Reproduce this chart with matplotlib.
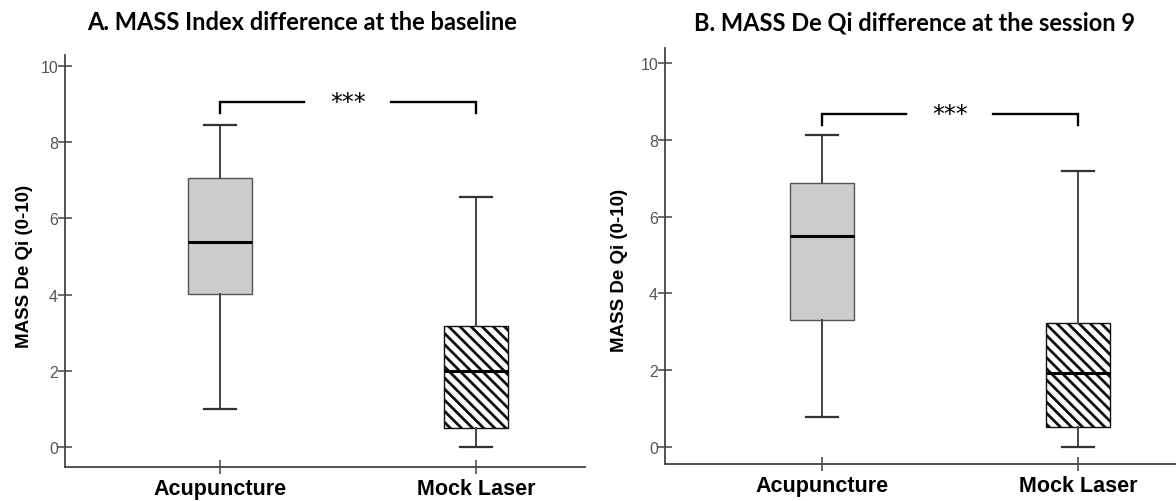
import matplotlib
matplotlib.use("Agg")
import matplotlib.pyplot as plt

plt.rcParams['hatch.linewidth'] = 2.0
plt.rcParams['font.family'] = ['Liberation Sans', 'DejaVu Sans']

groups = ['Acupuncture', 'Mock Laser']

# five-number summaries: whisker low, Q1, median, Q3, whisker high
baseline_acu = [1.0, 4.02, 5.38, 7.06, 8.45]
baseline_mock = [0.0, 0.50, 2.00, 3.18, 6.56]
session9_acu = [0.78, 3.31, 5.49, 6.88, 8.13]
session9_mock = [0.0, 0.52, 1.93, 3.23, 7.19]

titles = ['A. MASS Index difference at the baseline',
          'B. MASS De Qi difference at the session 9']
ylabel = 'MASS De Qi (0-10)'
yticks = [0, 2, 4, 6, 8, 10]
sig_label = '***'
sig_height = [9.06, 8.67]


def five_num(vals, label):
    lo, q1, med, q3, hi = vals
    return dict(whislo=lo, q1=q1, med=med, q3=q3, whishi=hi, label=label, fliers=[])


def draw_panel(ax, acu, mock, ylim, xlim, bracket_y):
    stats = [five_num(acu, groups[0]), five_num(mock, groups[1])]
    res = ax.bxp(stats, positions=[1, 2], widths=0.25, patch_artist=True,
                 showfliers=False,
                 boxprops=dict(edgecolor='#555555', linewidth=1.0),
                 whiskerprops=dict(color='#444444', linewidth=1.4),
                 capprops=dict(color='#333333', linewidth=1.6),
                 medianprops=dict(color='black', linewidth=2.2),
                 capwidths=0.125)
    res['boxes'][0].set_facecolor('#cccccc')
    res['boxes'][1].set_facecolor('white')
    res['boxes'][1].set_edgecolor('#111111')
    res['boxes'][1].set_hatch('\\\\\\')

    # significance bracket with a gap for the stars
    drop = 0.28
    ax.plot([1, 1, 1.33], [bracket_y - drop, bracket_y, bracket_y], color='black', lw=1.7,
            solid_joinstyle='miter')
    ax.plot([1.67, 2, 2], [bracket_y, bracket_y, bracket_y - drop], color='black', lw=1.7,
            solid_joinstyle='miter')
    ax.text(1.5, bracket_y, sig_label, ha='center', va='center', fontsize=17,
            family='DejaVu Sans')

    ax.set_xlim(*xlim)
    ax.set_ylim(*ylim)
    ax.set_yticks(yticks)
    ax.set_yticklabels([str(t) for t in yticks], fontsize=11.5, color='#555555',
                       family=['Liberation Sans Narrow', 'Liberation Sans'])
    ax.set_xticks([1, 2])
    ax.set_xticklabels(groups, fontsize=15.5, fontweight='bold')
    ax.tick_params(axis='both', direction='inout', length=10, width=1.1, color='#444444')
    ax.tick_params(axis='x', pad=3)
    ax.tick_params(axis='y', pad=0)
    for side in ['top', 'right']:
        ax.spines[side].set_visible(False)
    for side in ['left', 'bottom']:
        ax.spines[side].set_color('#444444')
        ax.spines[side].set_linewidth(1.3)


fig = plt.figure(figsize=(11.76, 5.02), dpi=100)
ax1 = fig.add_axes([0.0553, 0.0677, 0.4422, 0.8207])
ax2 = fig.add_axes([0.5655, 0.0737, 0.4345, 0.8287])

draw_panel(ax1, baseline_acu, baseline_mock, (-0.525, 10.29), (0.395, 2.426), sig_height[0])
draw_panel(ax2, session9_acu, session9_mock, (-0.44, 10.39), (0.387, 2.383), sig_height[1])

fig.text(0.257, 0.955, titles[0], ha='center', va='center', fontsize=17,
         fontweight='bold', family='Lato')
fig.text(0.778, 0.955, titles[1], ha='center', va='center', fontsize=17,
         fontweight='bold', family='Lato')
fig.text(25 / 1176, 1 - 266 / 502, ylabel, rotation=90, ha='center', va='center',
         fontsize=13.5, fontweight='bold')
fig.text(620 / 1176, 1 - 270 / 502, ylabel, rotation=90, ha='center', va='center',
         fontsize=13.5, fontweight='bold')

fig.savefig('out.png', dpi=100)
